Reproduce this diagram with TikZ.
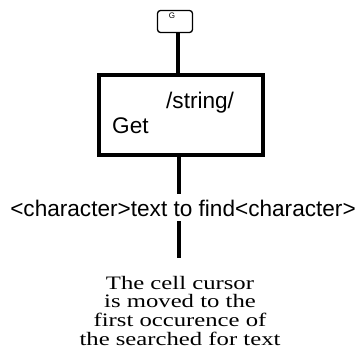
\documentclass[tikz,border=0pt]{standalone}
\usepackage{fontspec}
\newfontfamily\sansfont{Liberation Sans}
\newfontfamily\notefont[FakeStretch=1.3]{Liberation Serif}
\tikzset{
	wire/.style={line width=3.5pt},
	keycap/.style={draw, line width=1.3pt, rounded corners=3pt, minimum width=35pt, minimum height=22pt, inner sep=0pt},
	cmdbox/.style={draw, line width=4pt, minimum width=164pt, minimum height=80pt, inner sep=0pt},
	sans/.style={font=\sansfont\fontsize{22.6}{24}\selectfont, inner sep=0pt},
	note/.style={font=\notefont\fontsize{19}{18.6}\selectfont, align=center, inner sep=0pt}
}

\begin{document}
\begin{tikzpicture}[x=1pt,y=-1pt]
	\useasboundingbox (0,0) rectangle (363,364);
	\node[keycap] (key) at (175,21.5) {};
	\node[font=\sansfont\fontsize{8}{8}\selectfont, inner sep=0pt] (keylabel) at (172,16) {G};
	\node[cmdbox] (getbox) at (181,115) {};
	\node[sans, anchor=base west] (strlabel) at (166,108) {/string/};
	\node[sans, anchor=base west] (getlabel) at (112,133) {Get};
	\node[sans, anchor=base, inner ysep=5pt] (findtext) at (183,216) {<character>text to find<character>};
	\node[note, anchor=north] (result) at (180,276) {The cell cursor\\is moved to the\\first occurence of\\the searched for text};
	% connectors
	\draw[wire] ([xshift=3pt]key.south) -- ([xshift=3pt]key.south |- getbox.north);
	\draw[wire] ([xshift=-2pt]getbox.south) -- ([xshift=-2pt]getbox.south |- findtext.north);
	\draw[wire, shorten >=18pt] (findtext.south -| getbox.south) ++(-2pt,0) -- ([xshift=-2pt]getbox.south |- result.north);
\end{tikzpicture}
\end{document}
